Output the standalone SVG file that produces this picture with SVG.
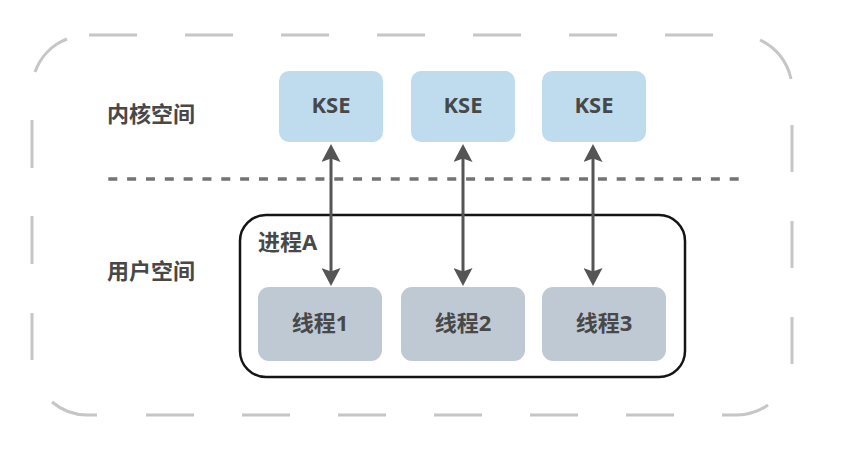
<svg xmlns="http://www.w3.org/2000/svg" width="850" height="450" viewBox="0 0 850 450">
  <style>
    .outer { fill: none; stroke: #c6c6c6; stroke-width: 3; }
    .divider { fill: none; stroke: #737373; stroke-width: 3.5; stroke-dasharray: 9 9.83; }
    .label { font-family: "Noto Sans", "Noto Sans CJK SC", sans-serif; font-size: 22px; font-weight: bold; fill: #484848; }
    .center { text-anchor: middle; }
    .kse { fill: #bedcee; }
    .thread { fill: #bfc9d4; }
    .proc { fill: #ffffff; stroke: #151515; stroke-width: 2.5; }
    .conn { stroke: #555555; stroke-width: 3; fill: none; marker-start: url(#arrow); marker-end: url(#arrow); }
  </style>
  <defs>
    <marker id="arrow" viewBox="0 0 18 19" refX="14" refY="9.5" markerWidth="18" markerHeight="19" markerUnits="userSpaceOnUse" orient="auto-start-reverse">
      <path d="M0,0 L18,9.5 L0,19 L3.5,9.5 z" fill="#555555"/>
    </marker>
  </defs>
  <rect x="0" y="0" width="850" height="450" fill="#ffffff"/>

  <g id="outer-boundary">
    <path class="outer" d="M35,72 A55,55 0 0 1 67,39
      M89,35 H137 M185,35 H233 M281,35 H329 M377,35 H425 M473,35 H521 M569,35 H617 M665,35 H713
      M760,40 A55,55 0 0 1 791,79
      M792,125 V172 M792,221 V268 M792,317 V364
      M722,415 H737 A55,55 0 0 0 768,405
      M626,415 H674 M530,415 H578 M434,415 H482 M338,415 H386 M242,415 H290 M146,415 H194
      M97,415 H87 A55,55 0 0 1 52,402
      M32,313 V360 M32,216 V264 M32,120 V168"/>
  </g>

  <g id="divider">
    <line class="divider" x1="108.3" y1="179" x2="739" y2="179"/>
  </g>

  <g id="label-kernel">
    <text class="label" x="107" y="122">内核空间</text>
  </g>
  <g id="label-user">
    <text class="label" x="107" y="279">用户空间</text>
  </g>

  <g id="process-a">
    <rect class="proc" x="240" y="215" width="445" height="162" rx="26" ry="26"/>
    <text class="label" x="258" y="250">进程A</text>
  </g>

  <g id="kse1">
    <rect class="kse" x="279" y="71" width="104" height="71" rx="10" ry="10"/>
    <text class="label center" x="331" y="113">KSE</text>
  </g>
  <g id="kse2">
    <rect class="kse" x="411" y="71" width="104" height="71" rx="10" ry="10"/>
    <text class="label center" x="463" y="113">KSE</text>
  </g>
  <g id="kse3">
    <rect class="kse" x="542" y="71" width="104" height="71" rx="10" ry="10"/>
    <text class="label center" x="594" y="113">KSE</text>
  </g>

  <g id="thread1">
    <rect class="thread" x="258" y="287" width="124" height="74" rx="11" ry="11"/>
    <text class="label center" x="320" y="331">线程1</text>
  </g>
  <g id="thread2">
    <rect class="thread" x="401" y="287" width="124" height="74" rx="11" ry="11"/>
    <text class="label center" x="463" y="331">线程2</text>
  </g>
  <g id="thread3">
    <rect class="thread" x="542" y="287" width="124" height="74" rx="11" ry="11"/>
    <text class="label center" x="604" y="331">线程3</text>
  </g>

  <g id="connectors">
    <line class="conn" x1="331" y1="148" x2="331" y2="282"/>
    <line class="conn" x1="463" y1="148" x2="463" y2="282"/>
    <line class="conn" x1="593" y1="148" x2="593" y2="282"/>
  </g>
</svg>
